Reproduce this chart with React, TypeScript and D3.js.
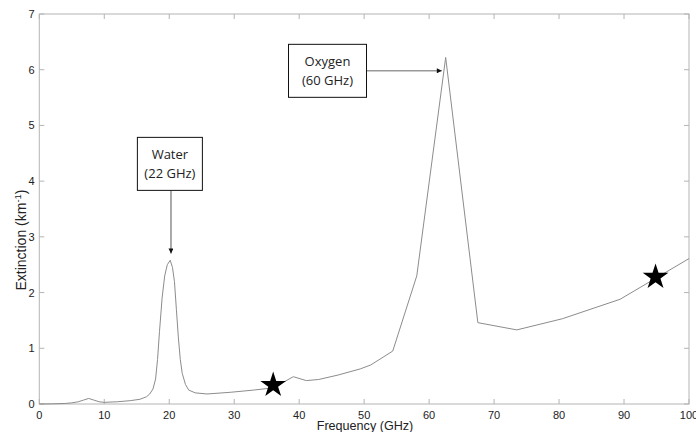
import React, { useEffect } from "react";
import * as d3 from "d3";

const frequency = [
  0, 2, 4, 5, 6, 6.8, 7.6, 8.4, 9.2, 10, 12, 14, 15.5, 16.5, 17.0, 17.5, 17.9,
  18.2, 18.5, 18.9, 19.3, 19.7, 20.15, 20.5, 20.8, 21.1, 21.4, 21.7, 22.0, 22.5,
  23.0, 24, 25.8, 29.4, 33, 36, 39.1, 41.1, 43, 46, 49.4, 51, 54.4, 58.1, 62.55,
  67.5, 73.5, 80.5, 89.4, 100,
];
const extinction = [
  0, 0.003, 0.01, 0.02, 0.04, 0.07, 0.1, 0.07, 0.04, 0.03, 0.04, 0.06, 0.085,
  0.13, 0.18, 0.27, 0.45, 0.8, 1.3, 1.9, 2.3, 2.5, 2.58, 2.45, 2.2, 1.7, 1.2,
  0.8, 0.55, 0.35, 0.25, 0.2, 0.18, 0.21, 0.25, 0.29, 0.49, 0.42, 0.44, 0.52,
  0.63, 0.7, 0.95, 2.3, 6.22, 1.46, 1.33, 1.53, 1.88, 2.61,
];

const starFrequency = [36.0, 94.85];
const starExtinction = [0.34, 2.28];

const xTicks = [0, 10, 20, 30, 40, 50, 60, 70, 80, 90, 100];
const yTicks = [0, 1, 2, 3, 4, 5, 6, 7];

const annotationLines1 = ["Water", "Oxygen"];
const annotationLines2 = ["(22 GHz)", "(60 GHz)"];
const annotationBoxFreq = [20.1, 44.36];
const annotationBoxExt = [4.31, 5.98];
const annotationBoxW = [65, 78];
const annotationBoxH = [53, 53];
const annotationTargetFreq = [20.27, 61.95];
const annotationTargetExt = [2.7, 5.98];

const W = 696;
const H = 432;
const left = 39.3;
const right = 689;
const top = 14;
const bottom = 404;

export default function App() {
  useEffect(() => {
    document.body.style.margin = "0";
  }, []);

  const x = d3.scaleLinear().domain([0, 100]).range([left, right]);
  const y = d3.scaleLinear().domain([0, 7]).range([bottom, top]);

  const pts = frequency.map((f, i) => [f, extinction[i]] as [number, number]);
  const line = d3
    .line<[number, number]>()
    .x((d) => x(d[0]))
    .y((d) => y(d[1]))
    .curve(d3.curveLinear);

  const starPath = d3.symbol().type(d3.symbolStar).size(205)() as string;

  const axisColor = "#b4b4b4";
  const tickFont = "'Liberation Sans', Arial, Helvetica, sans-serif";
  const boxFont = "'Open Sans', 'Noto Sans', sans-serif";
  const tl = 5;

  return (
    <svg
      width={W}
      height={H}
      style={{ position: "absolute", left: 0, top: 0, display: "block", background: "#fff" }}
    >
      <defs>
        <marker
          id="ah"
          viewBox="0 0 10 10"
          refX="10"
          refY="5"
          markerWidth="6"
          markerHeight="5"
          markerUnits="userSpaceOnUse"
          orient="auto"
        >
          <path d="M0,0 L10,5 L0,10 z" fill="#111" />
        </marker>
      </defs>
      <rect x={0} y={0} width={W} height={H} fill="#fff" />
      <rect
        x={left}
        y={top}
        width={right - left}
        height={bottom - top}
        fill="none"
        stroke={axisColor}
        strokeWidth={1}
      />
      {xTicks.map((t) => (
        <g key={"x" + t}>
          <line x1={x(t)} x2={x(t)} y1={bottom} y2={bottom - tl} stroke={axisColor} />
          <line x1={x(t)} x2={x(t)} y1={top} y2={top + tl} stroke={axisColor} />
          <text
            x={x(t)}
            y={418.5}
            textAnchor="middle"
            fontFamily={tickFont}
            fontSize={11}
            fill="#222"
          >
            {t}
          </text>
        </g>
      ))}
      {yTicks.map((t) => (
        <g key={"y" + t}>
          <line x1={left} x2={left + tl} y1={y(t)} y2={y(t)} stroke={axisColor} />
          <line x1={right} x2={right - tl} y1={y(t)} y2={y(t)} stroke={axisColor} />
          <text
            x={34.5}
            y={y(t) + 4}
            textAnchor="end"
            fontFamily={tickFont}
            fontSize={11}
            fill="#222"
          >
            {t}
          </text>
        </g>
      ))}
      <text
        x={365}
        y={430}
        textAnchor="middle"
        fontFamily={tickFont}
        fontSize={12.6}
        fill="#222"
      >
        Frequency (GHz)
      </text>
      <text
        transform={`translate(26,240) rotate(-90)`}
        textAnchor="middle"
        fontFamily={tickFont}
        fontSize={14}
        fill="#222"
      >
        Extinction (km
        <tspan dy={-5} fontSize={9.5}>
          -1
        </tspan>
        <tspan dy={5}>)</tspan>
      </text>
      <path d={line(pts) || ""} fill="none" stroke="#8c8c8c" strokeWidth={1} />
      {starFrequency.map((f, i) => (
        <path
          key={"s" + i}
          d={starPath}
          transform={`translate(${x(f)},${y(starExtinction[i])})`}
          fill="#000"
        />
      ))}
      {annotationLines1.map((l1, i) => {
        const cx = x(annotationBoxFreq[i]);
        const cy = y(annotationBoxExt[i]);
        const w = annotationBoxW[i];
        const h = annotationBoxH[i];
        const tx = x(annotationTargetFreq[i]);
        const ty = y(annotationTargetExt[i]);
        const vertical = Math.abs(tx - cx) < w / 2;
        const sx = vertical ? tx : cx + w / 2;
        const sy = vertical ? cy + h / 2 : cy;
        return (
          <g key={"a" + i}>
            <line
              x1={sx}
              y1={sy}
              x2={tx}
              y2={ty}
              stroke={vertical ? "#555" : "#999"}
              strokeWidth={vertical ? 1 : 1.5}
              markerEnd="url(#ah)"
            />
            <rect
              x={cx - w / 2}
              y={cy - h / 2}
              width={w}
              height={h}
              fill="#fff"
              stroke="#111"
              strokeWidth={1}
            />
            <text
              x={cx}
              y={cy - 4.6}
              textAnchor="middle"
              fontFamily={boxFont}
              fontSize={13}
              fill="#222"
            >
              {l1}
            </text>
            <text
              x={cx}
              y={cy + 13.9}
              textAnchor="middle"
              fontFamily={boxFont}
              fontSize={13}
              fill="#222"
            >
              {annotationLines2[i]}
            </text>
          </g>
        );
      })}
    </svg>
  );
}
